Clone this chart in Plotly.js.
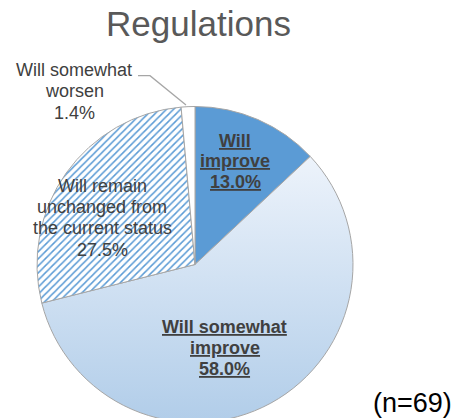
<!DOCTYPE html>
<html>
<head>
<meta charset="utf-8">
<script src="https://cdn.plot.ly/plotly-3.0.1.min.js"></script>
<style>
html, body { margin: 0; padding: 0; overflow: hidden; background: #fff; }
#chart { width: 462px; height: 430px; }
</style>
</head>
<body>
<div id="chart"></div>
<script>
// ---- data ----
const chartTitle = 'Regulations';
const categories = ['Will improve', 'Will somewhat improve', 'Will remain unchanged from the current status', 'Will somewhat worsen'];
const values = [13.0, 58.0, 27.5, 1.4];
const labelLines = [
  ['Will', 'improve'],
  ['Will somewhat', 'improve'],
  ['Will remain', 'unchanged from', 'the current status'],
  ['Will somewhat', 'worsen']
];
const sampleNote = '(n=69)';

// ---- styles / positions ----
const W = 462, H = 430;
const px = x => x / W;
const py = y => (H - y) / H;
const sliceColors = ['#5B9BD5', '#D3E3F4', '#FFFFFF', '#FFFFFF'];
const slicePattern = ['', '', '/', ''];
const labelStyle = [
  { x: 235, y0: 140.5, dy: 20.5, bold: true, underline: true },
  { x: 224.5, y0: 326.5, dy: 21, bold: true, underline: true },
  { x: 102, y0: 186, dy: 21.2, bold: false, underline: false },
  { x: 74, y0: 69.5, dy: 21.7, bold: false, underline: false }
];

const annotations = [];
categories.forEach((c, i) => {
  const lines = labelLines[i].concat([values[i].toFixed(1) + '%']);
  const st = labelStyle[i];
  lines.forEach((ln, j) => {
    let t = ln;
    if (st.underline) t = '<span style="text-decoration:underline">' + t + '</span>';
    if (st.bold) t = '<b>' + t + '</b>';
    annotations.push({
      text: t, xref: 'paper', yref: 'paper',
      x: px(st.x), y: py(st.y0 + j * st.dy),
      xanchor: 'center', yanchor: 'middle', showarrow: false,
      font: { family: 'Liberation Sans, Arial, sans-serif', size: 18, color: '#404040' }
    });
  });
});
annotations.push({
  text: sampleNote, xref: 'paper', yref: 'paper',
  x: px(412.5), y: py(403), xanchor: 'center', yanchor: 'middle', showarrow: false,
  font: { family: 'Liberation Sans, Arial, sans-serif', size: 27, color: '#000000' }
});

const leader = [[138, 75.7], [150, 75.7], [186, 105]];
const leaderPath = leader.map((p, i) => (i ? 'L' : 'M') + px(p[0]) + ',' + py(p[1])).join(' ');

const trace = {
  type: 'pie',
  labels: categories,
  values: values,
  sort: false,
  direction: 'clockwise',
  rotation: 0,
  textinfo: 'none',
  hoverinfo: 'none',
  showlegend: false,
  domain: { x: [px(37), px(353)], y: [py(423), py(106)] },
  marker: {
    colors: sliceColors,
    line: { color: '#A6A6A6', width: 1 },
    pattern: { shape: slicePattern, fgcolor: '#5B9BD5', bgcolor: '#FFFFFF', size: 5, solidity: 0.3 }
  }
};

const layout = {
  width: W, height: H,
  margin: { l: 0, r: 0, t: 0, b: 0 },
  paper_bgcolor: '#FFFFFF',
  title: {
    text: chartTitle,
    font: { family: 'Liberation Sans, Arial, sans-serif', size: 35, color: '#595959' },
    x: px(198.5), xanchor: 'center', xref: 'paper',
    y: 1 - 24 / H, yanchor: 'middle', yref: 'container'
  },
  annotations: annotations,
  shapes: [{ type: 'path', path: leaderPath, xref: 'paper', yref: 'paper', line: { color: '#A6A6A6', width: 1.3 } }]
};

Plotly.newPlot('chart', [trace], layout, { staticPlot: true, displayModeBar: false }).then(gd => {
  const svg = gd.querySelector('svg.main-svg');
  const defs = svg.querySelector('defs');
  const ns = 'http://www.w3.org/2000/svg';
  const g = document.createElementNS(ns, 'linearGradient');
  g.setAttribute('id', 'grad58');
  g.setAttribute('x1', '0'); g.setAttribute('y1', '0'); g.setAttribute('x2', '0'); g.setAttribute('y2', '1');
  [['0', '#EDF3FB'], ['1', '#B1CDE9']].forEach(s => {
    const st = document.createElementNS(ns, 'stop');
    st.setAttribute('offset', s[0]); st.setAttribute('stop-color', s[1]);
    g.appendChild(st);
  });
  defs.appendChild(g);
  const paths = gd.querySelectorAll('.slice path.surface');
  if (paths[1]) paths[1].style.fill = 'url(#grad58)';
});
</script>
</body>
</html>
